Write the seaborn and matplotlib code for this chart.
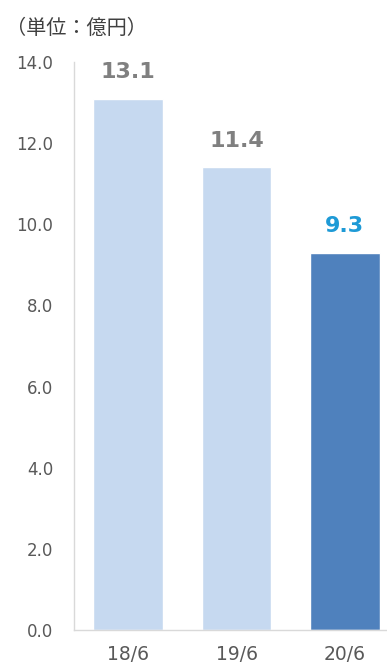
import matplotlib
matplotlib.use("Agg")
import matplotlib.pyplot as plt
import seaborn as sns
import pandas as pd

periods = ["18/6", "19/6", "20/6"]
values = [13.1, 11.4, 9.3]
bar_colors = ["#c6d9f0", "#c6d9f0", "#4f81bd"]
label_colors = ["#808080", "#808080", "#1e9ad6"]
y_ticks = [0.0, 2.0, 4.0, 6.0, 8.0, 10.0, 12.0, 14.0]

sns.set_theme(style="white")
plt.rcParams["font.family"] = ["DejaVu Sans"]
cjk = ["Noto Sans CJK JP", "DejaVu Sans"]

df = pd.DataFrame({"period": periods, "value": values})

fig = plt.figure(figsize=(3.87, 6.64), dpi=100)
ax = fig.add_axes([74 / 387, 34 / 664, 325 / 387, 568 / 664])

sns.barplot(data=df, x="period", y="value", hue="period", palette=bar_colors,
            legend=False, width=0.645, ax=ax, saturation=1)

ax.set_xlim(-0.5, 2.5)
ax.set_ylim(0, 14)
ax.set_yticks(y_ticks)
ax.set_yticklabels([f"{t:.1f}" for t in y_ticks], fontsize=12, color="#595959")
ax.set_xticks(range(len(periods)))
ax.set_xticklabels(periods, fontsize=13.5, color="#595959")
ax.tick_params(axis="y", length=0, pad=15)
ax.tick_params(axis="x", length=0, pad=11)
ax.set_xlabel("")
ax.set_ylabel("")

for side in ["top", "right"]:
    ax.spines[side].set_visible(False)
for side in ["left", "bottom"]:
    ax.spines[side].set_color("#d9d9d9")
    ax.spines[side].set_linewidth(1)

for i, v in enumerate(values):
    ax.annotate(f"{v:.1f}", xy=(i, v), xytext=(0, 12), textcoords="offset points",
                ha="center", va="bottom", fontsize=16, fontweight="bold",
                color=label_colors[i])

fig.text(6 / 387, 1 - 28 / 664, "（単位：億円）", fontsize=14.5, color="#404040",
         ha="left", va="center", family=cjk)

fig.savefig("out.png", dpi=100)
